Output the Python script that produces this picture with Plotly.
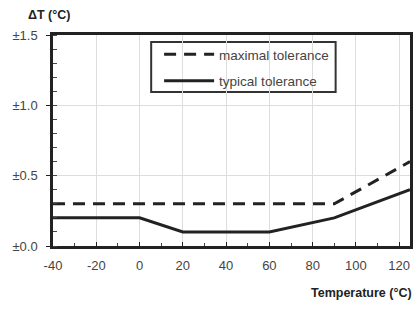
import plotly.graph_objects as go

temp_max = [-40, 90, 125]
tol_max = [0.3, 0.3, 0.6]
temp_typ = [-40, 0, 20, 60, 90, 125]
tol_typ = [0.2, 0.2, 0.1, 0.1, 0.2, 0.4]
y_ticks = [0.0, 0.5, 1.0, 1.5]
y_labels = ["±0.0", "±0.5", "±1.0", "±1.5"]
x_ticks = [-40, -20, 0, 20, 40, 60, 80, 100, 120]
x_labels = ["-40", "-20", "0", "20", "40", "60", "80", "100", "120"]

W, H = 418, 318
L, R, T, B = 53, 5, 35, 72
pw, ph = W - L - R, H - T - B


def px(x):
    return (x - L) / pw


def py(y):
    return (H - B - y) / ph


fig = go.Figure()
fig.add_trace(go.Scatter(x=temp_max, y=tol_max, mode="lines", name="maximal tolerance",
                         legendgroup="a",
                         line=dict(color="#222", width=3, dash="12px,8px")))
fig.add_trace(go.Scatter(x=temp_typ, y=tol_typ, mode="lines", name="typical tolerance",
                         legendgroup="b",
                         line=dict(color="#222", width=3)))

font = "Liberation Sans, Arial, sans-serif"
fig.update_layout(
    width=W, height=H,
    margin=dict(l=L, r=R, t=T, b=B),
    paper_bgcolor="white", plot_bgcolor="white",
    font=dict(family=font, color="#444", size=13),
    legend=dict(x=px(160), y=py(39), xanchor="left", yanchor="top",
                borderwidth=0, bgcolor="rgba(0,0,0,0)", itemwidth=50,
                font=dict(size=13.5, color="#444"), tracegroupgap=6),
    shapes=[dict(type="rect", xref="paper", yref="paper",
                 x0=px(152), x1=px(338), y0=py(42), y1=py(92),
                 line=dict(color="#333", width=2), fillcolor="white", layer="between")],
    xaxis=dict(range=[-40, 125], tickvals=x_ticks, ticktext=x_labels,
               showgrid=True, gridcolor="#ddd",
               showline=True, linecolor="#222", linewidth=2.5, mirror=True,
               ticks="inside", ticklen=4, tickcolor="#222", zeroline=False,
               ticklabelstandoff=6,
               minor=dict(dtick=10, ticks="inside", ticklen=3, tickcolor="#444", showgrid=False),
               tickfont=dict(size=13, color="#444")),
    yaxis=dict(range=[0, 1.5], tickvals=y_ticks, ticktext=y_labels, showgrid=True, gridcolor="#ddd",
               showline=True, linecolor="#222", linewidth=2.5, mirror=True,
               ticks="outside", ticklen=4, tickcolor="#222", zeroline=False,
               ticklabelstandoff=6,
               minor=dict(dtick=0.1, ticks="inside", ticklen=4, tickcolor="#444", showgrid=False),
               tickfont=dict(size=13, color="#444")),
    annotations=[
        dict(text="<b>ΔT (°C)</b>", x=px(49), y=py(15), xref="paper", yref="paper",
             xanchor="center", yanchor="middle", showarrow=False,
             font=dict(size=12.5, color="#222")),
        dict(text="<b>Temperature (°C)</b>", x=px(417), y=py(293), xref="paper", yref="paper",
             xanchor="right", yanchor="middle", showarrow=False,
             font=dict(size=12.5, color="#222")),
    ],
)
fig.write_html("out.html", config={"displayModeBar": False},
               post_script="document.body.style.margin='0';document.body.style.overflow='hidden';")
